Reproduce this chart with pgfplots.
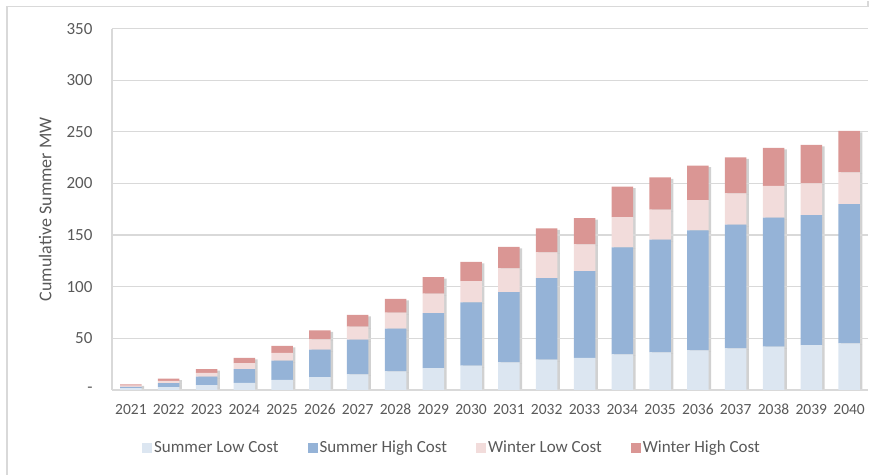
\documentclass[border=0pt]{standalone}
\usepackage{pgfplots}
\usepackage{pgfplotstable}
\pgfplotsset{compat=1.18}
\usepackage{fontspec}
\setmainfont{Carlito}
\definecolor{slc}{HTML}{DCE6F1}
\definecolor{shc}{HTML}{95B3D7}
\definecolor{wlc}{HTML}{F2DCDB}
\definecolor{whc}{HTML}{DA9694}
\definecolor{txt}{HTML}{595959}
\definecolor{gridc}{HTML}{D9D9D9}
\pgfplotstableread{
idx year slc shc wlc whc
0 2021 1.5 1.2 1.2 1.3
1 2022 2.6 3.9 2.2 2.0
2 2023 4.6 8.1 3.6 3.8
3 2024 6.6 13.5 5.6 5.1
4 2025 9.5 18.7 7.5 6.8
5 2026 12.3 26.5 10.0 8.7
6 2027 14.8 33.7 12.6 11.4
7 2028 17.8 41.4 15.5 13.3
8 2029 21.0 53.4 18.7 16.2
9 2030 23.3 61.5 20.6 18.5
10 2031 26.5 68.2 23.0 20.7
11 2032 29.1 79.2 25.0 23.2
12 2033 31.0 84.1 25.8 25.6
13 2034 34.2 103.8 29.3 29.6
14 2035 36.2 109.3 29.1 31.3
15 2036 38.1 116.4 29.4 33.4
16 2037 40.0 120.0 30.4 34.9
17 2038 41.7 125.1 30.8 36.8
18 2039 43.3 126.0 30.7 37.3
19 2040 45.0 135.0 30.8 40.2
}\datatable
\pgfplotsset{
  common/.style={
    at={(0,0)}, anchor=south west,
    scale only axis, width=756bp, height=361bp,
    xmin=-0.5, xmax=19.5, ymin=0, ymax=350,
    ybar stacked, bar width=21.5bp,
  }
}
\begin{document}
\begin{tikzpicture}
% shadow layer
\begin{axis}[common, hide axis]
\addplot[fill=black, fill opacity=0.18, draw=none, bar shift=2.5bp, yshift=-1.5bp] table[x=idx,y=slc]{\datatable};
\addplot[fill=black, fill opacity=0.18, draw=none, bar shift=2.5bp, yshift=-1.5bp] table[x=idx,y=shc]{\datatable};
\addplot[fill=black, fill opacity=0.18, draw=none, bar shift=2.5bp, yshift=-1.5bp] table[x=idx,y=wlc]{\datatable};
\addplot[fill=black, fill opacity=0.18, draw=none, bar shift=2.5bp, yshift=-1.5bp] table[x=idx,y=whc]{\datatable};
\end{axis}
\begin{axis}[common,
  axis x line*=bottom, axis y line*=left,
  axis line style={draw=gridc, line width=1.5bp},
  ymajorgrids, grid style={draw=gridc, line width=1.2bp},
  major tick length=0pt,
  xtick=data,
  xticklabels from table={\datatable}{year},
  ytick={0,50,...,350},
  yticklabels={-,50,100,150,200,250,300,350},
  /pgf/number format/assume math mode=true,
  ticklabel style={text=txt},
  x tick label style={font=\fontsize{15.5bp}{17bp}\selectfont, yshift=-11bp},
  y tick label style={font=\fontsize{17bp}{18bp}\selectfont, xshift=-16bp},
  ylabel={Cumulative Summer MW},
  ylabel style={font=\fontsize{18bp}{19bp}\selectfont, text=txt, at={(rel axis cs:0,0.5)}, anchor=south, yshift=57bp},
  legend columns=4,
  legend style={draw=none, fill=none, at={(27bp,-58bp)}, anchor=west,
    font=\fontsize{17bp}{18bp}\selectfont, text=txt,
    /tikz/every even column/.append style={column sep=27bp}},
  legend image code/.code={\fill[#1] (0bp,-5bp) rectangle (10bp,5bp);},
]
\addplot[fill=slc, draw=none] table[x=idx,y=slc]{\datatable};
\addlegendentry{Summer Low Cost}
\addplot[fill=shc, draw=none] table[x=idx,y=shc]{\datatable};
\addlegendentry{Summer High Cost}
\addplot[fill=wlc, draw=none] table[x=idx,y=wlc]{\datatable};
\addlegendentry{Winter Low Cost}
\addplot[fill=whc, draw=none] table[x=idx,y=whc]{\datatable};
\addlegendentry{Winter High Cost}
\end{axis}
\draw[gridc, line width=1.5bp] (-105bp,-85bp) -- (-105bp,383bp) -- (757bp,383bp);
\draw[gridc, line width=1.5bp] (756bp,383bp) -- (756bp,389bp);
\path[use as bounding box] (-112bp,-85bp) rectangle (764bp,389bp);
\end{tikzpicture}
\end{document}
